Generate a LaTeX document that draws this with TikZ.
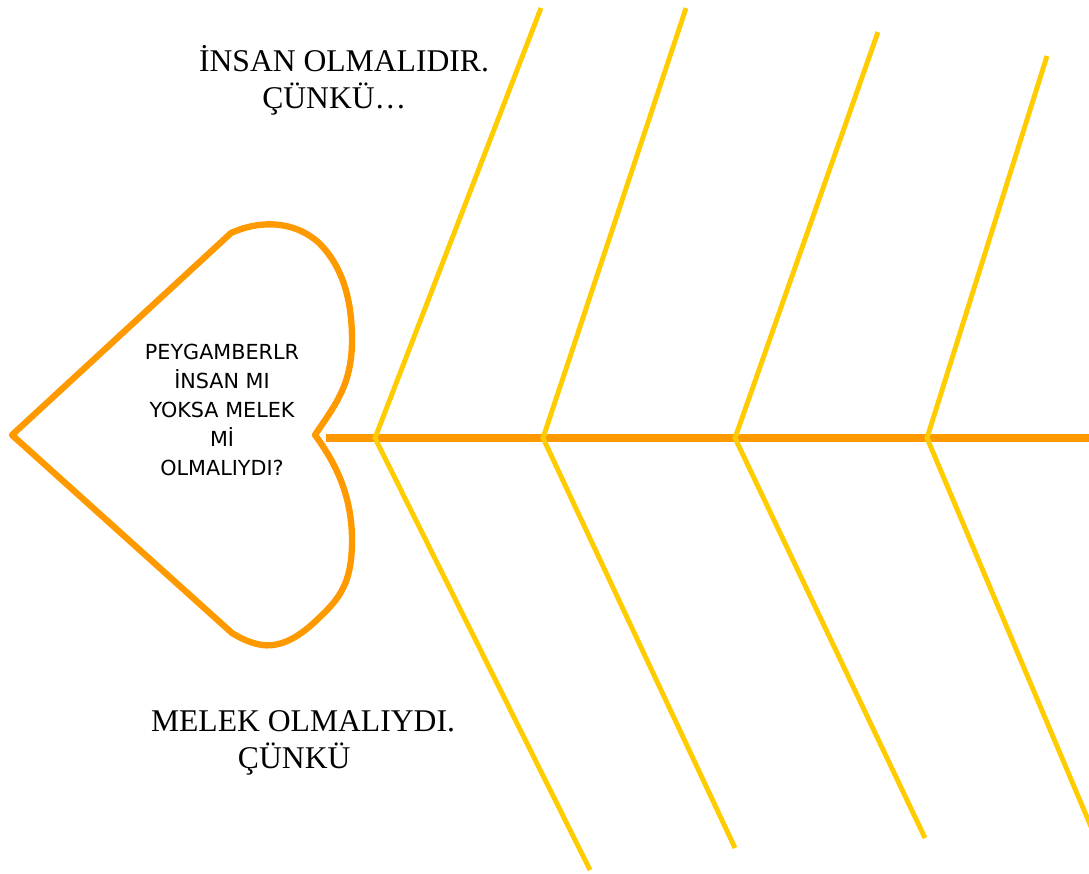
\documentclass[tikz,border=0pt]{standalone}
\usepackage{fontspec}
\setmainfont{Liberation Serif}
\newfontfamily\handfont{DejaVu Sans}
\usetikzlibrary{positioning}
\definecolor{fishorange}{HTML}{FF9900}
\definecolor{boneyellow}{HTML}{FFCC00}

\begin{document}
\begin{tikzpicture}[x=0.02cm, y=-0.02cm,
    heart/.style={draw=fishorange, line width=3.6pt, line join=round},
    spine/.style={draw=fishorange, line width=4pt},
    bone/.style={draw=boneyellow, line width=2.8pt},
    caption/.style={align=center, font=\fontsize{18}{21}\selectfont, inner sep=0pt},
    question/.style={align=center, font=\handfont\fontsize{11.8}{16.5}\selectfont, inner sep=0pt},
]
\useasboundingbox (0,0) rectangle (1089,873);
\clip (0,0) rectangle (1089,873);

% Head of the fish
\draw[heart] (12,435) -- (231,233)
    .. controls (255,222) and (290,218) .. (318,242)
    .. controls (345,268) and (352,305) .. (352,340)
    .. controls (352,385) and (335,405) .. (315,435)
    .. controls (335,462) and (352,495) .. (352,540)
    .. controls (352,578) and (343,595) .. (322,615)
    .. controls (305,632) and (285,648) .. (262,645)
    .. controls (250,643) and (240,638) .. (232,633)
    -- cycle;
\node[question] (soru) at (222,410) {PEYGAMBERLR\\İNSAN MI\\YOKSA MELEK\\Mİ\\OLMALIYDI?};

% Spine
\coordinate (neck) at (326,438);
\coordinate (tail) at (1095,438);
\draw[spine] (neck) -- (tail);

% Bones
\foreach \n/\jx/\ux/\uy/\dx/\dy in {1/375/541/8/590/870, 2/543/686/8/735/848,
                                    3/735/878/32/925/838, 4/927/1047/56/1100/848}{
    \coordinate (j\n) at (\jx,438);
    \coordinate (up\n) at (\ux,\uy);
    \coordinate (down\n) at (\dx,\dy);
    \draw[bone] (up\n) -- (j\n) -- (down\n);
}

% Captions
\node[caption] (insan) at (344,80) {İNSAN OLMALIDIR.\\ÇÜNKÜ…\hspace*{11pt}};
\node[caption] (melek) at (303,743) {MELEK OLMALIYDI.\\ÇÜNKÜ\hspace*{10pt}};
\end{tikzpicture}
\end{document}
